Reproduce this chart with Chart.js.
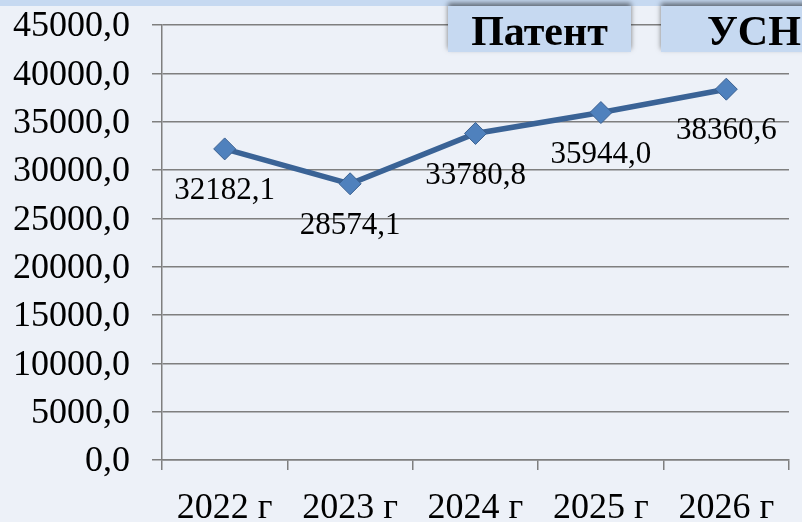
<!DOCTYPE html>
<html><head><meta charset="utf-8">
<script src="https://cdn.jsdelivr.net/npm/chart.js@4/dist/chart.umd.min.js"></script>
<style>
html,body{margin:0;padding:0;background:#edf1f8;}
#wrap{position:relative;width:802px;height:522px;overflow:hidden;background:#edf1f8;}
#strip{position:absolute;left:0;top:0;width:802px;height:6px;background:#c6d9f1;}
.box{position:absolute;top:6px;height:46px;background:#c6d9f1;box-shadow:0 -3px 5px rgba(0,0,0,0.5);
font-family:"Liberation Serif",serif;font-weight:bold;font-size:42px;line-height:50px;color:#000;white-space:nowrap;}
canvas{position:absolute;left:0;top:0;}
</style></head>
<body><div id="wrap"><canvas id="c" width="802" height="522"></canvas><div id="strip"></div>
<div class="box" style="left:448px;width:183px;text-align:center;">Патент</div>
<div class="box" style="left:661px;width:160px;padding-left:46px;box-sizing:border-box;">УСН</div>
</div>
<script>
const categories = ["2022 г","2023 г","2024 г","2025 г","2026 г"];
const values = [32182.1, 28574.1, 33780.8, 35944.0, 38360.6];
const labelTexts = ["32182,1","28574,1","33780,8","35944,0","38360,6"];
const yMin = 0, yMax = 45000, yStep = 5000;

const fmt = v => v.toFixed(1).replace('.', ',');
const font = {family:"Liberation Serif", size:36};

const labelPlugin = {
  id:'pointLabels',
  afterDatasetsDraw(chart){
    const ctx = chart.ctx;
    const meta = chart.getDatasetMeta(0);
    ctx.save();
    ctx.font = "31px 'Liberation Serif'";
    ctx.fillStyle = '#000';
    ctx.textAlign = 'center';
    ctx.textBaseline = 'middle';
    meta.data.forEach((p,i)=>{
      ctx.fillText(labelTexts[i], p.x, p.y + 42);
    });
    ctx.restore();
  }
};

new Chart(document.getElementById('c'), {
  type:'line',
  data:{labels:categories, datasets:[{
    data:values,
    borderColor:'#3a6396',
    borderWidth:5.5,
    pointStyle:'rectRot',
    pointRadius:11,
    pointBackgroundColor:'#4f81bd',
    pointBorderColor:'#3a6090',
    pointBorderWidth:1,
    tension:0
  }]},
  options:{
    responsive:false, animation:false,
    layout:{padding:{top:25,right:13,left:0,bottom:0}},
    plugins:{legend:{display:false},tooltip:{enabled:false}},
    scales:{
      x:{
        offset:true,
        grid:{offset:true,drawOnChartArea:false,drawTicks:true,tickLength:10,color:'#7f7f7f',lineWidth:1.5},
        border:{color:'#7f7f7f',width:1.5},
        ticks:{font:font,color:'#000',padding:17,maxRotation:0,autoSkip:false},
        afterFit(s){s.height=62;s.paddingLeft=0;s.paddingRight=0;}
      },
      y:{
        min:yMin,max:yMax,
        grid:{color:'#7f7f7f',lineWidth:1.5,tickLength:10},
        border:{color:'#7f7f7f',width:1.5},
        ticks:{stepSize:yStep,font:font,color:'#000',padding:22,labelOffset:2,callback:v=>fmt(v),autoSkip:false},
        afterFit(s){s.width=162;s.paddingTop=0;s.paddingBottom=0;}
      }
    }
  },
  plugins:[labelPlugin]
});
</script></body></html>
